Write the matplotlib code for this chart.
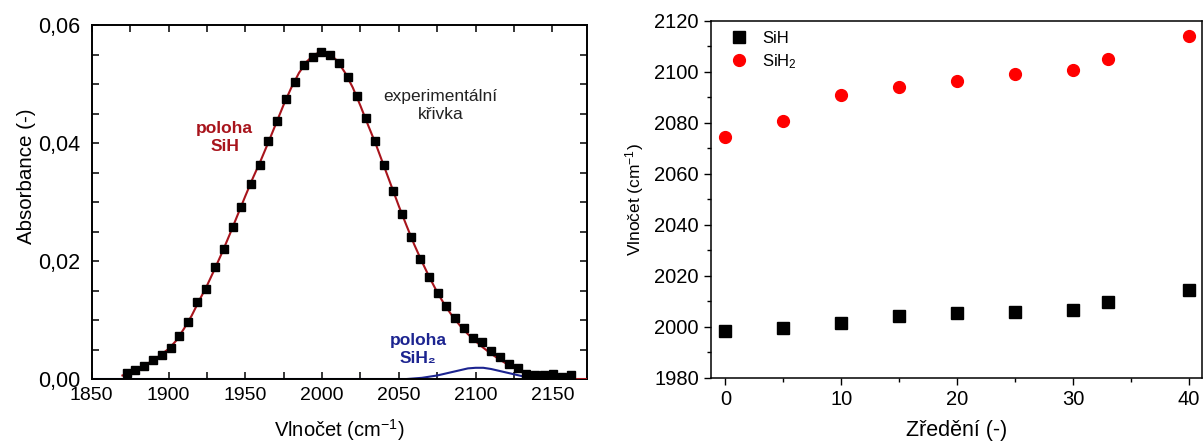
import matplotlib
matplotlib.use("Agg")
import matplotlib.pyplot as plt
from matplotlib.ticker import MultipleLocator, FuncFormatter

plt.rcParams["font.family"] = ["Liberation Sans", "DejaVu Sans"]
plt.rcParams["mathtext.default"] = "regular"

# --- IR absorbance spectrum (left panel) ---
wavenumber = [1872.8, 1878.3, 1884.0, 1889.8, 1895.5, 1901.3, 1907.0, 1912.8, 1918.8,
              1924.5, 1930.3, 1936.0, 1941.8, 1947.5, 1953.5, 1959.3, 1965.0, 1970.8,
              1976.5, 1982.3, 1988.0, 1993.8, 1999.5, 2005.3, 2011.0, 2016.8, 2022.5,
              2028.5, 2034.3, 2040.3, 2046.3, 2052.0, 2058.0, 2063.8, 2069.5, 2075.3,
              2080.8, 2086.8, 2092.5, 2098.5, 2104.3, 2110.0, 2115.8, 2121.5, 2127.3,
              2133.0, 2138.8, 2144.5, 2150.3, 2156.0, 2161.8]
absorbance = [0.00096, 0.0015, 0.0022, 0.0032, 0.0041, 0.0053, 0.0073, 0.0097, 0.0130,
              0.0152, 0.0189, 0.0220, 0.0258, 0.0292, 0.0331, 0.0363, 0.0403, 0.0438,
              0.0474, 0.0504, 0.0532, 0.0546, 0.0555, 0.0549, 0.0536, 0.0512, 0.0480,
              0.0442, 0.0404, 0.0362, 0.0319, 0.0280, 0.0241, 0.0203, 0.0173, 0.0145,
              0.0123, 0.0103, 0.0087, 0.0069, 0.0062, 0.0048, 0.0038, 0.0025, 0.0018,
              0.0008, 0.0007, 0.0007, 0.0008, 0.0004, 0.0007]

# SiH band fit
sih_x = [1870, 1875, 1880, 1885, 1890, 1895, 1900, 1905, 1910, 1915, 1920, 1925, 1930,
         1935, 1940, 1945, 1950, 1955, 1960, 1965, 1970, 1975, 1980, 1985, 1990, 1995,
         2000, 2005, 2010, 2015, 2020, 2025, 2030, 2035, 2040, 2045, 2050, 2055, 2060,
         2065, 2070, 2075, 2080, 2085, 2090, 2095, 2100, 2105, 2110, 2115, 2120, 2125,
         2130, 2135, 2140, 2145, 2150, 2160, 2172]
sih_y = [0.0006, 0.0011, 0.0017, 0.0024, 0.0032, 0.0041, 0.0051, 0.0065, 0.0085, 0.0107,
         0.0133, 0.0158, 0.0186, 0.0215, 0.0246, 0.0278, 0.0310, 0.0341, 0.0370, 0.0401,
         0.0433, 0.0465, 0.0494, 0.0519, 0.0538, 0.0550, 0.0555, 0.0551, 0.0539, 0.0519,
         0.0494, 0.0463, 0.0430, 0.0398, 0.0363, 0.0328, 0.0293, 0.0260, 0.0228, 0.0199,
         0.0172, 0.0147, 0.0125, 0.0106, 0.0090, 0.0076, 0.0064, 0.0053, 0.0043, 0.0034,
         0.0026, 0.0019, 0.0012, 0.0007, 0.0004, 0.0002, 0.0001, 0.0000, 0.0000]

# SiH2 band fit
sih2_x = [1850, 2050, 2055, 2060, 2065, 2070, 2075, 2080, 2085, 2090, 2095, 2100, 2105,
          2110, 2115, 2120, 2125, 2130, 2133]
sih2_y = [0.0, 0.0, 0.0, 0.0001, 0.0002, 0.0004, 0.0006, 0.0009, 0.0012, 0.0015, 0.0018,
          0.0019, 0.0019, 0.0017, 0.0014, 0.0011, 0.0008, 0.0005, 0.0003]

# --- Band positions vs. dilution (right panel) ---
dilution = [0, 5, 10, 15, 20, 25, 30, 33, 40]
pos_sih = [1998.3, 1999.4, 2001.6, 2004.3, 2005.5, 2005.8, 2006.6, 2009.6, 2014.4]
pos_sih2 = [2074.5, 2080.8, 2090.9, 2094.0, 2096.3, 2099.2, 2100.5, 2105.0, 2114.0]

RED = "#a8141c"
BLUE = "#1c2490"

fig = plt.figure(figsize=(12.04, 4.45), dpi=100)

# Left panel
ax1 = fig.add_axes([0.0762, 0.1483, 0.4113, 0.7955])
ax1.plot(sih2_x, sih2_y, color=BLUE, lw=1.5, zorder=2)
ax1.plot(sih_x, sih_y, color=RED, lw=1.5, zorder=3)
ax1.plot(wavenumber, absorbance, ls="none", marker="s", ms=5.2, color="black", zorder=4)
ax1.set_xlim(1850, 2172.5)
ax1.set_ylim(0, 0.06)
ax1.xaxis.set_major_locator(MultipleLocator(50))
ax1.xaxis.set_minor_locator(MultipleLocator(25))
ax1.yaxis.set_major_locator(MultipleLocator(0.02))
ax1.yaxis.set_minor_locator(MultipleLocator(0.005))
ax1.yaxis.set_major_formatter(FuncFormatter(lambda v, p: f"{v:.2f}".replace(".", ",")))
ax1.tick_params(which="both", direction="in", top=True, right=True, length=5, width=1.1)
ax1.tick_params(axis="x", labelsize=14, pad=6)
ax1.tick_params(axis="y", labelsize=15.5, pad=8.5)
for s in ax1.spines.values():
    s.set_linewidth(1.4)
ax1.set_xlabel("Vlnočet (cm$^{-1}$)", fontsize=14.5, labelpad=9)
ax1.set_ylabel("Absorbance (-)", fontsize=14.8)
ax1.yaxis.set_label_coords(-0.113, 0.573)

ax1.text(1936.5, 0.0410, "poloha\nSiH", color=RED, fontsize=12.5, fontweight="bold",
         ha="center", va="center", linespacing=1.25)
ax1.text(2077, 0.0463, "experimentální\nkřivka", color="#222222", fontsize=12.5,
         ha="center", va="center", linespacing=1.25)
ax1.text(2062.5, 0.0050, "poloha\nSiH₂", color=BLUE, fontsize=12.5, fontweight="bold",
         ha="center", va="center", linespacing=1.25)

# Right panel
ax2 = fig.add_axes([0.5903, 0.1512, 0.4077, 0.8023])
ax2.plot(dilution, pos_sih, ls="none", marker="s", ms=8, color="black", label="SiH")
ax2.plot(dilution, pos_sih2, ls="none", marker="o", ms=8.5, color="#ff0000",
         label="SiH$_2$")
ax2.set_xlim(-1.26, 41.1)
ax2.set_ylim(1980, 2120)
ax2.xaxis.set_major_locator(MultipleLocator(10))
ax2.xaxis.set_minor_locator(MultipleLocator(5))
ax2.yaxis.set_major_locator(MultipleLocator(20))
ax2.yaxis.set_minor_locator(MultipleLocator(10))
ax2.tick_params(which="major", direction="out", length=5, width=1, labelsize=14.5)
ax2.tick_params(which="minor", direction="out", length=3, width=1)
for s in ax2.spines.values():
    s.set_linewidth(1.1)
ax2.set_xlabel("Zředění (-)", fontsize=15.5, labelpad=8)
ax2.set_ylabel("Vlnočet (cm$^{-1}$)", fontsize=12.5, labelpad=6)
ax2.legend(loc="upper left", frameon=False, fontsize=12, handletextpad=0.8,
           borderaxespad=0.3, labelspacing=0.35, handlelength=1.2,
           bbox_to_anchor=(0.013, 1.003))

fig.savefig("out.png", dpi=100)
